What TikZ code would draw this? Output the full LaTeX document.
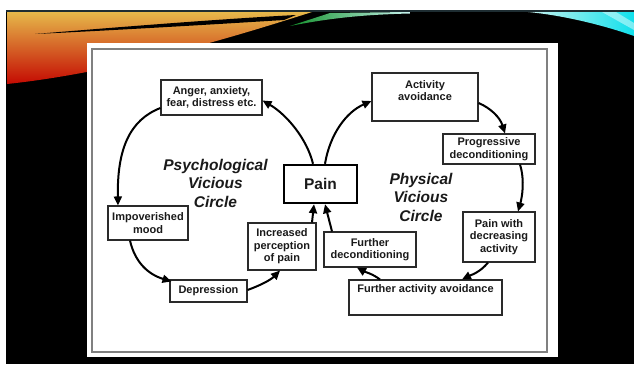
\documentclass[tikz,border=0pt]{standalone}
\usepackage{fontspec}
\setmainfont{Liberation Sans}
\usetikzlibrary{arrows.meta}

\definecolor{inkc}{HTML}{1A1A1A}
\definecolor{boxline}{HTML}{2A2A2A}
\definecolor{frameline}{HTML}{808080}
\definecolor{topline}{HTML}{1E2D32}
\definecolor{swgold}{HTML}{E6B84A}
\definecolor{sworange}{HTML}{E2720E}
\definecolor{swred}{HTML}{C40A02}
\definecolor{swgreen}{HTML}{12902A}
\definecolor{swpale}{HTML}{C8F4F0}
\definecolor{swcyan}{HTML}{10E0EC}

\newcommand\boxtxt{\bfseries\fontsize{11}{12.5}\selectfont}
\newcommand\circtxt{\bfseries\itshape\fontsize{15.5}{18.5}\selectfont}

\begin{document}
\begin{tikzpicture}[x=1pt,y=-1pt,
  box/.style={draw=boxline, line width=1.1pt, fill=white, text=inkc,
    font=\boxtxt, align=center, inner sep=1pt},
  boxtext/.style={text=inkc, font=\boxtxt, align=center, inner sep=0pt},
  painbox/.style={draw=black, line width=2.4pt, fill=white, text=inkc,
    font=\bfseries\fontsize{15.5}{18}\selectfont, inner sep=1pt,
    minimum width=73pt, minimum height=38pt},
  circlelabel/.style={text=inkc, font=\circtxt, align=center, inner sep=0pt},
  flow/.style={draw=black, line width=2pt, -{Triangle[length=9pt,width=8pt]}}]

\useasboundingbox (0,0) rectangle (634,364);

% slide background
\fill[white] (0,0) rectangle (634,364);
\fill[black] (6,11) rectangle (634,364);
\draw[topline, line width=1.2pt] (6,11) -- (634,11);

% warm swoosh, top left
\shade[top color=swgold, middle color=sworange, bottom color=swred]
  (7,12) -- (312,12) .. controls (240,35) and (120,72) .. (7,84) -- cycle;
\fill[black] (35,34) .. controls (120,27) and (220,19) .. (296,15)
  -- (284,20) .. controls (220,24) and (120,30) .. (35,34) -- cycle;

% green streak
\shade[left color=swgreen, right color=swpale]
  (290,26) -- (330,13) -- (410,12) -- (410,13.5)
  .. controls (370,14.5) and (335,17) .. (290,26) -- cycle;

% cyan swoosh, top right
\shade[left color=swpale, right color=swcyan]
  (528,12) -- (634,12) -- (634,36) .. controls (600,24) and (560,15) .. (528,12) -- cycle;
\fill[white, opacity=0.45] (602,12) -- (616,12) -- (634,23) -- (634,30) -- cycle;

% figure card
\fill[white] (87,43) rectangle (558,357);
\draw[frameline, line width=1.3pt] (92,49) rectangle (547,352);

% boxes
\node[box, minimum width=101pt, minimum height=35pt] (anger) at (211.5,97.5)
  {Anger, anxiety,\\fear, distress etc.};
\node[painbox] (pain) at (320.5,184) {Pain};
\node[box, minimum width=106pt, minimum height=48pt] (avoid) at (425,97) {};
\node[boxtext] (avoidtext) at ([yshift=6.5pt]avoid.center) {Activity\\avoidance};
\node[box, minimum width=92pt, minimum height=30pt] (progdecon) at (489,149)
  {Progressive\\deconditioning};
\node[box, minimum width=72pt, minimum height=50pt] (painwith) at (499,237)
  {Pain with\\decreasing\\activity};
\node[box, minimum width=153pt, minimum height=35pt] (furtheravoid) at (425.5,297.5) {};
\node[boxtext] (furtheravoidtext) at ([yshift=7.5pt]furtheravoid.center)
  {Further activity avoidance};
\node[box, minimum width=92pt, minimum height=35pt] (furtherdecon) at (370,249.5)
  {Further\\deconditioning};
\node[box, minimum width=68pt, minimum height=47pt] (incperc) at (282,246.5)
  {Increased\\perception\\of pain};
\node[box, minimum width=77pt, minimum height=22pt] (depression) at (208.5,291)
  {Depression};
\node[box, minimum width=80pt, minimum height=34pt] (impov) at (148,223)
  {Impoverished\\mood};

% circle titles
\node[circlelabel] (psychlabel) at (215.5,183) {Psychological\\Vicious\\Circle};
\node[circlelabel] (physlabel) at (421,197) {Physical\\Vicious\\Circle};

% psychological circle
\draw[flow] ([xshift=-7.5pt]pain.north) .. controls +(-6,-25) and +(24,14) .. ([yshift=-3pt]anger.east);
\draw[flow] ([yshift=-10.5pt]anger.west) .. controls +(-31,12) and +(-1,-56) .. ([xshift=-30pt]impov.north);
\draw[flow] ([xshift=-18pt]impov.south) .. controls +(5,22) and +(-23,-7) .. ([xshift=2pt,yshift=-2pt]depression.north west);
\draw[flow] ([yshift=1pt]depression.east) .. controls +(11,-4) and +(-10,10) .. ([xshift=-2pt]incperc.south);
\draw[flow] ([xshift=30pt]incperc.north) -- ([xshift=-6.5pt]pain.south);

% physical circle
\draw[flow] ([xshift=4.5pt]pain.north) .. controls +(5,-30) and +(-25,11) .. ([yshift=-4pt]avoid.west);
\draw[flow] ([yshift=-6pt]avoid.east) .. controls +(12,5) and +(-5,-16) .. ([xshift=16pt]progdecon.north);
\draw[flow] ([xshift=31pt]progdecon.south) .. controls +(5,16) and +(4,-14) .. ([xshift=19pt]painwith.north);
\draw[flow] ([xshift=-11pt]painwith.south) .. controls +(-8,10) and +(8,-4) .. ([xshift=36.5pt]furtheravoid.north);
\draw[flow] ([xshift=-45.5pt]furtheravoid.north) .. controls +(-8,-6) and +(7,4) .. ([xshift=-13pt]furtherdecon.south);
\draw[flow] ([xshift=-38pt]furtherdecon.north) -- ([xshift=4.5pt]pain.south);

\end{tikzpicture}
\end{document}
